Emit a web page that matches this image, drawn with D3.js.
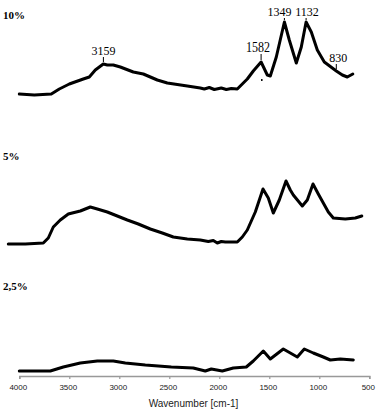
<!DOCTYPE html>
<html>
<head>
<meta charset="utf-8">
<script src="https://cdn.jsdelivr.net/npm/d3@7"></script>
<style>
  body { margin: 0; background: #fff; }
  svg { display: block; }
</style>
</head>
<body>
<div id="chart"></div>
<script>
// wavenumber (cm-1) and stacked absorbance (a.u.)
const wn10 = [4000, 3850, 3680, 3600, 3500, 3360, 3300, 3240, 3160, 3120, 3060, 2990, 2860, 2760, 2620, 2520, 2320, 2190, 2150, 2100, 2050, 1980, 1930, 1880, 1820, 1720, 1660, 1582, 1520, 1490, 1430, 1349, 1300, 1230, 1180, 1132, 1080, 1020, 950, 870, 830, 770, 720, 665];
const ab10 = [2.82, 2.81, 2.82, 2.87, 2.92, 2.97, 2.99, 3.06, 3.12, 3.11, 3.11, 3.09, 3.04, 3.02, 2.96, 2.93, 2.90, 2.88, 2.87, 2.885, 2.865, 2.88, 2.865, 2.875, 2.87, 2.97, 3.05, 3.14, 3.01, 3.00, 3.19, 3.54, 3.36, 3.13, 3.29, 3.54, 3.44, 3.26, 3.14, 3.08, 3.05, 3.01, 2.99, 3.02];

const wn5 = [4110, 3940, 3760, 3710, 3660, 3590, 3510, 3390, 3290, 3220, 3120, 3020, 2920, 2810, 2690, 2570, 2460, 2320, 2190, 2110, 2060, 2020, 1980, 1940, 1820, 1770, 1720, 1640, 1563, 1510, 1460, 1400, 1333, 1290, 1260, 1170, 1120, 1063, 1010, 960, 910, 860, 740, 640, 575];
const ab5 = [1.32, 1.32, 1.33, 1.38, 1.49, 1.56, 1.62, 1.65, 1.69, 1.67, 1.64, 1.60, 1.56, 1.52, 1.47, 1.43, 1.39, 1.37, 1.36, 1.345, 1.355, 1.33, 1.345, 1.34, 1.34, 1.39, 1.46, 1.64, 1.87, 1.78, 1.63, 1.76, 1.95, 1.86, 1.81, 1.70, 1.76, 1.92, 1.82, 1.73, 1.64, 1.58, 1.57, 1.58, 1.60];

const wn25 = [4000, 3690, 3560, 3390, 3220, 3060, 2940, 2740, 2480, 2260, 2140, 2080, 1970, 1860, 1730, 1660, 1560, 1490, 1360, 1290, 1220, 1150, 1060, 960, 890, 790, 660];
const ab25 = [0.05, 0.05, 0.09, 0.13, 0.15, 0.15, 0.13, 0.11, 0.09, 0.08, 0.05, 0.07, 0.05, 0.08, 0.09, 0.15, 0.25, 0.17, 0.27, 0.23, 0.19, 0.27, 0.23, 0.19, 0.16, 0.17, 0.16];

const seriesNames = ["10%", "5%", "2,5%"];
const seriesLabelY = [3.57, 2.16, 0.86];

const peakWn = [3159, 1582, 1349, 1132, 830];
const peakLabels = ["3159", "1582", "1349", "1132", "830"];

const xTicks = [4000, 3500, 3000, 2500, 2000, 1500, 1000, 500];
const xTitle = "Wavenumber [cm-1]";

const width = 387, height = 420;

const svg = d3.select("#chart").append("svg")
  .attr("width", width)
  .attr("height", height);

const x = d3.scaleLinear().domain([4000, 500]).range([19.3, 369.3]);
const y = d3.scaleLinear().domain([0, 3.76]).range([376, 0]);

const line = d3.line()
  .x(d => x(d[0]))
  .y(d => y(d[1]));

// axis
const axis = svg.append("g")
  .attr("transform", `translate(0,${y(0)})`)
  .call(d3.axisBottom(x).tickValues(xTicks).tickSize(3).tickPadding(5).tickFormat(d3.format("d")));
axis.select(".domain").attr("stroke", "#999").attr("stroke-width", 1.5);
axis.selectAll(".tick line").attr("stroke", "#999").attr("stroke-width", 1.2);
axis.selectAll(".tick text")
  .attr("font-family", "'Liberation Sans', Arial, sans-serif")
  .attr("font-size", 8)
  .attr("fill", "#222")
  .attr("dx", -1.5);

svg.append("text")
  .attr("x", 193.5)
  .attr("y", 407)
  .attr("text-anchor", "middle")
  .attr("font-family", "'Liberation Sans', Arial, sans-serif")
  .attr("font-size", 10)
  .attr("fill", "#222")
  .text(xTitle);

// spectra
const spectra = [
  d3.zip(wn10, ab10),
  d3.zip(wn5, ab5),
  d3.zip(wn25, ab25)
];

spectra.forEach(data => {
  svg.append("path")
    .datum(data)
    .attr("fill", "none")
    .attr("stroke", "#000")
    .attr("stroke-width", 3)
    .attr("stroke-linejoin", "round")
    .attr("stroke-linecap", "round")
    .attr("d", line);
});

// series labels
seriesNames.forEach((name, i) => {
  svg.append("text")
    .attr("x", 3)
    .attr("y", y(seriesLabelY[i]))
    .attr("font-family", "'Liberation Serif', 'Times New Roman', serif")
    .attr("font-weight", "bold")
    .attr("font-size", 11)
    .attr("fill", "#000")
    .text(name);
});

// peak annotations on the 10% trace
const peakValue = w => {
  const i = d3.minIndex(wn10, v => Math.abs(v - w));
  return ab10[i];
};
const labelDx = [0, -3, -5, 1, 2];
const labelGap = [8, 9, 5, 5, 8];

peakWn.forEach((w, i) => {
  const px = x(w);
  const py = y(peakValue(w)) - 2;
  svg.append("line")
    .attr("x1", px).attr("x2", px)
    .attr("y1", py).attr("y2", py - labelGap[i] + 3)
    .attr("stroke", "#000")
    .attr("stroke-width", 1);
  const t = svg.append("text")
    .attr("x", px + labelDx[i])
    .attr("y", py - labelGap[i] + 1)
    .attr("text-anchor", "middle")
    .attr("font-family", "'Liberation Serif', 'Times New Roman', serif")
    .attr("font-size", i === 1 ? 15 : 12)
    .attr("fill", "#000")
    .text(peakLabels[i]);
  if (i === 1) t.attr("textLength", 24).attr("lengthAdjust", "spacingAndGlyphs");
});

// small stray mark under the 1582 band
svg.append("line")
  .attr("x1", x(1575)).attr("x2", x(1575))
  .attr("y1", y(2.97)).attr("y2", y(2.95))
  .attr("stroke", "#000")
  .attr("stroke-width", 1.5);
</script>
</body>
</html>
